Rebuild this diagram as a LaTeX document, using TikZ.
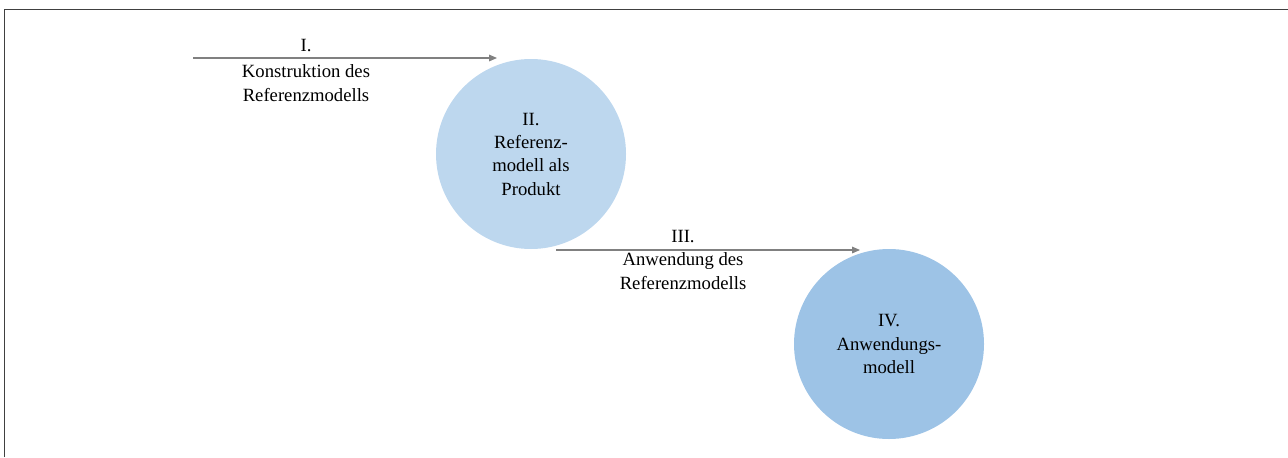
\documentclass[tikz,border=0pt]{standalone}
\usepackage{fontspec}
\setmainfont{Liberation Serif}
\newfontfamily\labelfont{Liberation Serif}
\usetikzlibrary{arrows.meta}
\definecolor{framegray}{HTML}{404040}
\definecolor{arrowgray}{HTML}{808080}
\definecolor{lightblue}{HTML}{BDD7EE}
\definecolor{midblue}{HTML}{9DC3E6}
\begin{document}
\begin{tikzpicture}[x=0.75pt,y=-0.75pt,
  phase/.style={circle,minimum size=142.5pt,inner sep=0pt,draw=none,
    align=center,font=\labelfont\fontsize{14}{17.5}\selectfont,text=black},
  lbl/.style={align=center,font=\labelfont\fontsize{14}{17.5}\selectfont,text=black,inner sep=0pt},
  flow/.style={draw=arrowgray,line width=0.8pt,
    -{Triangle[length=6pt,width=5pt]}}]
\useasboundingbox (0,0) rectangle (1288,457);
% frame edges
\draw[framegray,line width=1.2pt] (4.5,457) -- (4.5,9.5) -- (1288,9.5);
% phases
\node[phase,fill=lightblue] (prod) at (531,154) {II.\\Referenz-\\modell als\\Produkt};
\node[phase,fill=midblue] (app) at (889,344) {IV.\\Anwendungs-\\modell};
% construction step
\coordinate (c1s) at (193,58);
\coordinate (c1e) at (497,58);
\draw[flow] (c1s) -- (c1e);
\node[lbl] (n1) at (306,46) {I.};
\node[lbl] (t1) at (306,83) {Konstruktion des\\Referenzmodells};
% application step
\coordinate (c2s) at (556,250);
\coordinate (c2e) at (860,250);
\draw[flow] (c2s) -- (c2e);
\node[lbl] (n3) at (683,237) {III.};
\node[lbl] (t3) at (683,271) {Anwendung des\\Referenzmodells};
\end{tikzpicture}
\end{document}
